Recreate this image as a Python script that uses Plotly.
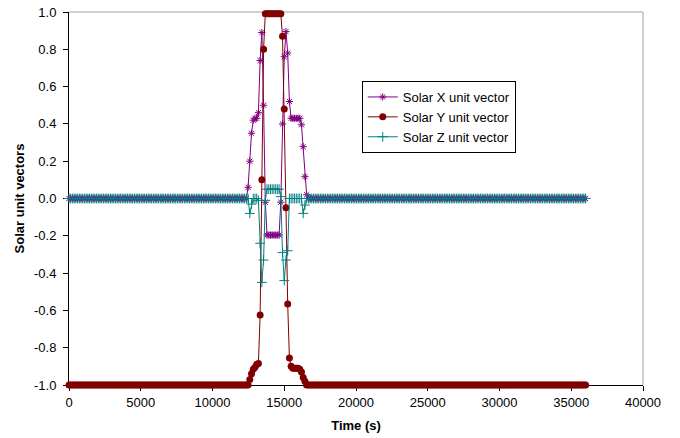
import numpy as np
import plotly.graph_objects as go

# Time samples (s): every 120 s from 0 to 36000
time_s = np.arange(0, 36001, 120)

# Event window starts at sample index 104 (t = 12480 s)
peak_start = 104
solar_x_peak = [0.06, 0.20, 0.35, 0.42, 0.43, 0.43, 0.46, 0.74, 0.89, 0.50,
                -0.02, -0.196, -0.196, -0.196, -0.196, -0.196, -0.196, -0.196, -0.196,
                -0.02, 0.40, 0.76, 0.895, 0.78, 0.52, 0.43, 0.43, 0.43, 0.43, 0.43, 0.43,
                0.395, 0.278, 0.117, 0.02]
solar_y_peak = [-1.0, -0.97, -0.94, -0.915, -0.905, -0.89, -0.885, -0.625, 0.10, 0.80,
                0.99, 0.99, 0.99, 0.99, 0.99, 0.99, 0.99, 0.99, 0.99,
                0.99, 0.87, 0.48, -0.05, -0.566, -0.855, -0.90, -0.91, -0.91, -0.91, -0.91, -0.915,
                -0.93, -0.96, -0.98, -1.0]
solar_z_peak = [0.0, -0.08, -0.03, 0.0, 0.0, 0.0, -0.01, -0.24, -0.45, -0.33,
                -0.01, 0.05, 0.05, 0.05, 0.05, 0.05, 0.05, 0.05, 0.05,
                0.01, -0.29, -0.44, -0.33, -0.28, 0.0, 0.0, 0.0, 0.0, 0.0, 0.0, 0.0,
                0.0, -0.08, -0.035, 0.0]

n = len(time_s)
tail = n - peak_start - len(solar_x_peak)
solar_x = [0.0] * peak_start + solar_x_peak + [0.0] * tail
solar_y = [-1.0] * peak_start + solar_y_peak + [-1.0] * tail
solar_z = [0.0] * peak_start + solar_z_peak + [0.0] * tail

x_ticks = [0, 5000, 10000, 15000, 20000, 25000, 30000, 35000, 40000]
y_ticks = [-1.0, -0.8, -0.6, -0.4, -0.2, 0.0, 0.2, 0.4, 0.6, 0.8, 1.0]

fig = go.Figure()
fig.add_trace(go.Scatter(
    x=time_s, y=solar_x, mode="lines+markers", name="Solar X unit vector",
    cliponaxis=False,
    line=dict(color="#800080", width=1),
    marker=dict(symbol="asterisk-open", size=6, color="#800080",
                line=dict(color="#800080", width=1))))
fig.add_trace(go.Scatter(
    x=time_s, y=solar_y, mode="lines+markers", name="Solar Y unit vector",
    cliponaxis=False,
    line=dict(color="#800000", width=1),
    marker=dict(symbol="circle", size=7, color="#800000")))
fig.add_trace(go.Scatter(
    x=time_s, y=solar_z, mode="lines+markers", name="Solar Z unit vector",
    cliponaxis=False,
    line=dict(color="#008080", width=1),
    marker=dict(symbol="cross-thin-open", size=7, color="#008080",
                line=dict(color="#008080", width=1))))

font = "Liberation Sans, Arial, sans-serif"
fig.update_layout(
    width=680, height=438,
    margin=dict(l=69, r=37, t=12, b=53),
    paper_bgcolor="white", plot_bgcolor="white",
    font=dict(family=font, size=13, color="black"),
    showlegend=True,
    legend=dict(x=0.51, y=0.815, xanchor="left", yanchor="top",
                bgcolor="white", bordercolor="black", borderwidth=1,
                font=dict(family=font, size=13), tracegroupgap=0,
                itemwidth=30),
    xaxis=dict(range=[0, 40000], tickvals=x_ticks, ticktext=[str(v) for v in x_ticks],
               showgrid=False, zeroline=False, showline=True, linecolor="black",
               linewidth=1, ticks="outside", ticklen=5, tickcolor="black",
               layer="below traces", automargin=False,
               title=dict(text="<b>Time (s)</b>", font=dict(size=13), standoff=12)),
    yaxis=dict(range=[-1.0, 1.0], tickvals=y_ticks, ticktext=[f"{v:.1f}" for v in y_ticks],
               showgrid=False, zeroline=False, showline=True, linecolor="black",
               linewidth=1, ticks="outside", ticklen=5, tickcolor="black",
               ticklabelstandoff=4, layer="below traces", automargin=False,
               title=dict(text="<b>Solar unit vectors</b>", font=dict(size=13), standoff=6)),
    shapes=[
        dict(type="line", xref="paper", yref="paper", x0=0, x1=1, y0=1, y1=1,
             line=dict(color="#a0a0a0", width=1), layer="below"),
        dict(type="line", xref="paper", yref="paper", x0=1, x1=1, y0=0, y1=1,
             line=dict(color="#a0a0a0", width=1), layer="below"),
    ],
)

fig.write_html("out.html")
